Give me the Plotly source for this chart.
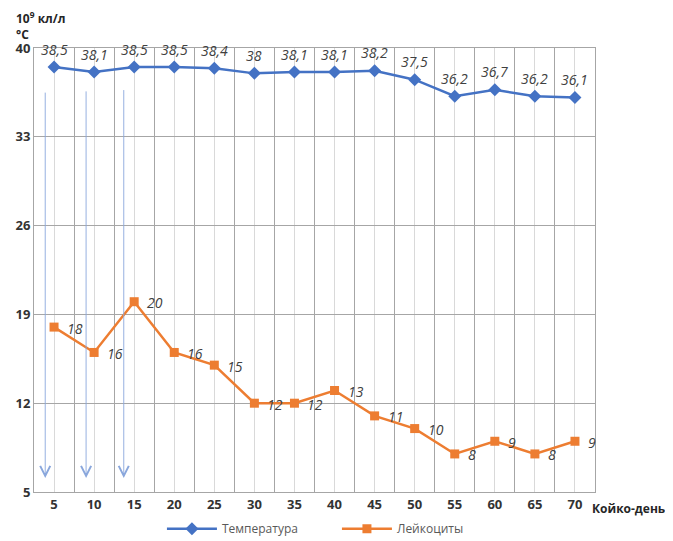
import plotly.graph_objects as go

days = [5, 10, 15, 20, 25, 30, 35, 40, 45, 50, 55, 60, 65, 70]
temperature = [38.5, 38.1, 38.5, 38.5, 38.4, 38.0, 38.1, 38.1, 38.2, 37.5, 36.2, 36.7, 36.2, 36.1]
leukocytes = [18, 16, 20, 16, 15, 12, 12, 13, 11, 10, 8, 9, 8, 9]
y_ticks = [5, 12, 19, 26, 33, 40]

# arrows: (x_head, y_head, x_tail, y_tail) in data units
arrows = [(3.9, 6.1, 3.9, 36.6), (9.0, 6.1, 9.0, 36.7), (13.7, 6.1, 13.7, 36.8), (73.6, 14.9, 73.6, 18.2)]

def fmt(v):
    return f"{v:g}".replace('.', ',')

FONT = "Open Sans"
TXT = "#404040"
LBL = dict(family=FONT, size=14, color=TXT, style="italic")

fig = go.Figure()
fig.add_trace(go.Scatter(
    x=days, y=temperature, name="Температура", mode="lines+markers",
    line=dict(color="#4472c4", width=2.5),
    marker=dict(symbol="diamond", size=10, color="#4472c4"),
    cliponaxis=False,
))
fig.add_trace(go.Scatter(
    x=days, y=leukocytes, name="Лейкоциты", mode="lines+markers",
    line=dict(color="#ed7d31", width=2.5),
    marker=dict(symbol="square", size=9, color="#ed7d31"),
    cliponaxis=False,
))

for d, v in zip(days, temperature):
    fig.add_annotation(x=d, y=v, text=fmt(v), showarrow=False, yshift=18, font=LBL)
for d, v in zip(days, leukocytes):
    fig.add_annotation(x=d, y=v, text=fmt(v), showarrow=False, xanchor="left",
                       xshift=11, yshift=-1, font=LBL)

for xh, yh, xt, yt in arrows:
    fig.add_annotation(x=xh, y=yh, ax=xt, ay=yt, xref="x", yref="y", axref="x", ayref="y",
                       showarrow=True, arrowhead=5, arrowsize=2.2, arrowwidth=0.9,
                       arrowcolor="#8aa7dc", text="")

fig.add_annotation(x=-0.035, y=1.0, xref="paper", yref="paper", xanchor="left", yanchor="bottom",
                   yshift=3, showarrow=False, align="left",
                   text="<b>10<sup>9</sup> кл/л<br>°C</b>",
                   font=dict(family=FONT, size=12, color="#262626"))
fig.add_annotation(x=1.0, y=0, xref="paper", yref="paper", xanchor="left", yanchor="top",
                   xshift=-5, yshift=-6, showarrow=False,
                   text="<b>Койко-день</b>", font=dict(family=FONT, size=12, color="#262626"))

# page body adds an 8px offset, so the figure is 8px smaller on each side
fig.update_layout(
    width=665, height=533,
    margin=dict(l=26, r=78, t=40, b=49, autoexpand=False),
    paper_bgcolor="white", plot_bgcolor="white",
    font=dict(family=FONT, color=TXT),
    showlegend=True,
    legend=dict(orientation="h", x=0.54, xanchor="center", y=-0.05, yanchor="top",
                font=dict(family=FONT, size=12, color="#595959"), itemwidth=50,
                entrywidth=110),
    xaxis=dict(range=[2.5, 72.5], tickvals=days, ticktext=[str(d) for d in days],
               showgrid=True, gridcolor="#d9d9d9", gridwidth=1,
               minor=dict(tick0=2.5, dtick=5, showgrid=True, gridcolor="#a6a6a6", gridwidth=1),
               showline=True, mirror=True, linecolor="#a6a6a6", linewidth=1,
               zeroline=False, ticks="", automargin=False,
               tickfont=dict(family=FONT, size=13, color="#333333", weight="bold")),
    yaxis=dict(range=[5, 40], tickvals=y_ticks, ticktext=[str(v) for v in y_ticks],
               showgrid=True, gridcolor="#a6a6a6", gridwidth=1,
               showline=True, mirror=True, linecolor="#a6a6a6", linewidth=1,
               zeroline=False, ticks="", automargin=False,
               tickfont=dict(family=FONT, size=13, color="#333333", weight="bold")),
)

fig.write_html("out.html")
